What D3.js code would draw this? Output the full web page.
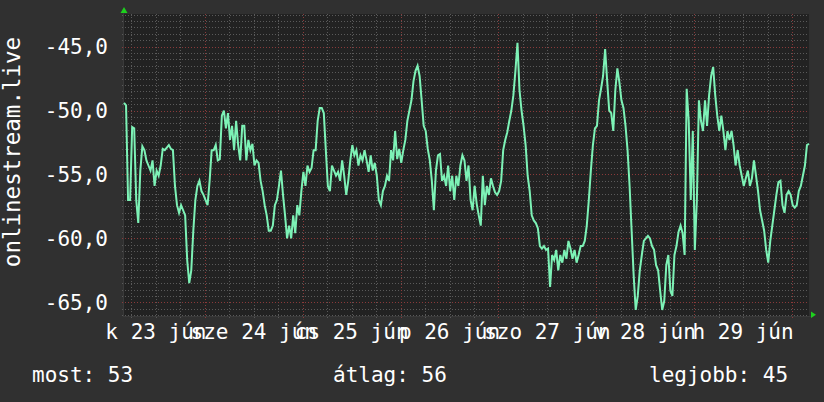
<!DOCTYPE html>
<html><head><meta charset="utf-8">
<script src="https://cdn.jsdelivr.net/npm/d3@7"></script>
<style>html,body{margin:0;padding:0;background:#303030;} svg{display:block}</style>
</head><body><svg id="c" width="824" height="402"></svg>
<script>
// ---- data ----
const seriesName = "onlinestream.live";
const dayLabels = ["k 23 jún", "sze 24 jún", "cs 25 jún", "p 26 jún", "szo 27 jún", "v 28 jún", "h 29 jún"];
const yTicks = [-65, -60, -55, -50, -45];
const legendLabels = ["most: 53", "átlag: 56", "legjobb: 45"];
const startTime = Date.UTC(2020, 5, 23, 4, 10);
const stepMinutes = 30;
const values = [
-49.4,-49.6,-57.0,-57.0,-51.3,-51.4,-57.0,-58.8,-54.7,-52.8,-53.1,-53.9,-54.3,-54.7,-53.9,-55.9,-54.7,-55.1,-54.3,-53.0,
-53.1,-52.9,-52.7,-53.0,-53.1,-55.9,-57.4,-58.0,-57.4,-57.8,-58.2,-61.7,-63.5,-62.5,-59.4,-57.0,-55.9,-55.5,-56.3,-56.6,
-57.0,-57.4,-55.5,-53.1,-53.1,-52.7,-53.9,-53.8,-50.4,-50.0,-51.4,-50.2,-52.3,-51.2,-53.1,-50.8,-52.7,-53.9,-51.2,-51.2,
-53.9,-52.3,-53.1,-52.6,-54.3,-53.9,-54.1,-55.5,-56.3,-57.4,-58.2,-59.4,-59.4,-59.0,-57.4,-57.0,-55.9,-54.7,-56.6,-58.2,
-60.0,-59.0,-60.0,-58.2,-59.6,-57.4,-58.2,-56.3,-54.8,-55.9,-54.3,-54.8,-54.5,-53.1,-53.1,-50.8,-49.8,-49.8,-50.2,-53.1,
-55.9,-56.3,-54.3,-54.7,-55.1,-54.8,-55.5,-53.9,-55.1,-56.6,-55.5,-53.9,-52.7,-53.5,-53.1,-54.3,-53.5,-53.9,-53.1,-53.9,
-54.8,-53.5,-54.7,-54.1,-55.1,-57.0,-57.4,-56.3,-55.9,-55.1,-55.5,-53.1,-53.9,-51.6,-53.8,-53.0,-54.1,-53.1,-52.3,-50.8,
-50.0,-49.2,-47.7,-46.9,-46.5,-47.3,-49.2,-51.2,-51.6,-53.0,-53.9,-55.5,-57.8,-54.7,-53.5,-53.4,-55.5,-55.1,-55.9,-54.3,
-56.3,-55.1,-57.0,-55.1,-55.9,-54.3,-53.5,-53.9,-55.5,-54.3,-57.0,-57.8,-55.9,-57.3,-58.2,-59.0,-55.1,-57.4,-55.9,-56.6,
-55.3,-55.9,-56.4,-56.6,-56.3,-55.5,-53.1,-52.3,-51.7,-50.8,-50.0,-48.8,-46.9,-44.7,-48.4,-50.0,-51.2,-52.7,-55.1,-56.3,
-58.2,-58.6,-58.8,-59.2,-60.6,-60.8,-60.6,-60.9,-60.8,-63.8,-61.3,-61.7,-60.9,-62.5,-61.3,-61.9,-60.9,-61.6,-60.2,-60.8,
-61.6,-60.9,-61.9,-61.3,-60.6,-60.6,-60.2,-59.0,-57.0,-54.7,-52.7,-51.4,-51.2,-49.2,-48.3,-47.3,-45.2,-47.7,-50.0,-50.2,
-51.6,-48.4,-46.7,-47.8,-49.2,-49.8,-51.2,-53.1,-55.9,-59.4,-62.9,-65.6,-64.5,-62.5,-61.3,-60.2,-60.0,-59.8,-60.0,-60.6,
-60.9,-62.1,-62.5,-64.1,-65.6,-64.9,-62.1,-61.3,-64.1,-64.5,-61.3,-60.6,-59.5,-59.0,-59.6,-61.3,-48.3,-50.8,-57.0,-51.6,
-60.9,-57.0,-49.2,-50.8,-51.6,-49.2,-51.2,-48.8,-47.3,-46.6,-48.8,-50.4,-51.6,-50.4,-51.6,-53.1,-51.6,-52.3,-51.6,-52.7,
-54.3,-53.1,-54.3,-55.1,-55.9,-55.3,-54.7,-55.9,-55.3,-53.9,-55.1,-56.3,-57.8,-58.6,-59.4,-60.9,-61.9,-60.2,-59.0,-57.8,
-56.6,-55.6,-55.5,-57.4,-58.0,-56.6,-56.3,-56.6,-57.4,-57.6,-57.4,-56.3,-55.9,-55.1,-54.3,-52.7,-52.6
];

// ---- drawing ----
const W = 824, H = 402;
const plot = {left: 124, right: 809, top: 14, bottom: 317};
const font = "'DejaVu Sans Mono', monospace";
const svg = d3.select("#c");
svg.append("rect").attr("width", W).attr("height", H).attr("fill", "#303030");
svg.append("rect").attr("x", plot.left).attr("y", plot.top)
  .attr("width", plot.right - plot.left).attr("height", plot.bottom - plot.top).attr("fill", "#222222");

const t0 = new Date(startTime), t1 = new Date(startTime + 7 * 864e5);
const x = d3.scaleUtc().domain([t0, t1]).range([plot.left, plot.right]);
const y = d3.scaleLinear().domain([-66.15, -42.45]).range([plot.bottom, plot.top]);
const times = values.map((v, i) => new Date(startTime + i * stepMinutes * 60000));

const loc = d3.formatLocale({decimal: ",", thousands: " ", grouping: [3], currency: ["", ""], minus: "-"});
const fmt = loc.format(".1f");

const grid = svg.append("g").attr("shape-rendering", "crispEdges");
const minorY = d3.range(-66, -42.45, 0.5);
grid.selectAll("line.mh").data(minorY).join("line")
  .attr("x1", plot.left - 2).attr("x2", plot.right)
  .attr("y1", d => Math.round(y(d)) + 0.5).attr("y2", d => Math.round(y(d)) + 0.5)
  .attr("stroke", "#5a5a5a").attr("stroke-dasharray", "1,2");
const minorX = d3.utcHour.every(6).range(t0, t1);
grid.selectAll("line.mv").data(minorX).join("line")
  .attr("y1", plot.top).attr("y2", plot.bottom + 2)
  .attr("x1", d => Math.round(x(d)) + 0.5).attr("x2", d => Math.round(x(d)) + 0.5)
  .attr("stroke", "#5a5a5a").attr("stroke-dasharray", "1,2");
grid.selectAll("line.Mh").data(yTicks).join("line")
  .attr("x1", plot.left - 2).attr("x2", plot.right)
  .attr("y1", d => Math.round(y(d)) + 0.5).attr("y2", d => Math.round(y(d)) + 0.5)
  .attr("stroke", "#8a3a3a").attr("stroke-dasharray", "1,2");
const days = d3.utcDay.range(t0, t1);
grid.selectAll("line.Mv").data(days).join("line")
  .attr("y1", plot.top).attr("y2", plot.bottom + 2)
  .attr("x1", d => Math.round(x(d)) + 0.5).attr("x2", d => Math.round(x(d)) + 0.5)
  .attr("stroke", "#8a3a3a").attr("stroke-dasharray", "1,2");

grid.append("line").attr("x1", plot.left - 0.5).attr("x2", plot.left - 0.5)
  .attr("y1", plot.top - 4).attr("y2", plot.bottom).attr("stroke", "#3a3a3a");
grid.append("line").attr("x1", plot.left).attr("x2", plot.right + 4)
  .attr("y1", plot.bottom - 0.5).attr("y2", plot.bottom - 0.5).attr("stroke", "#3a3a3a");

svg.append("path").attr("d", `M${plot.left - 3.5},${plot.top - 1} L${plot.left + 3.5},${plot.top - 1} L${plot.left},${plot.top - 7} Z`).attr("fill", "#1ed01e");
svg.append("path").attr("d", `M${plot.right + 2},${plot.bottom - 5.5} L${plot.right + 2},${plot.bottom + 1} L${plot.right + 7},${plot.bottom - 2.2} Z`).attr("fill", "#1ed01e");

const line = d3.line().x((d, i) => x(times[i])).y(d => y(d));
svg.append("path").datum(values).attr("d", line)
  .attr("fill", "none").attr("stroke", "#7df2b6").attr("stroke-width", 2).attr("stroke-linejoin", "miter");

svg.selectAll("text.yt").data(yTicks).join("text")
  .attr("x", 108).attr("y", d => y(d) + 7.5)
  .attr("text-anchor", "end").attr("fill", "#ffffff")
  .style("font-family", font).style("font-size", "21px").text(d => fmt(d));

const noons = days.map(d => new Date(+d + 12 * 3600e3));
noons.unshift(new Date(Date.UTC(2020, 5, 23, 12)));
svg.selectAll("text.xt").data(dayLabels).join("text")
  .attr("x", (d, i) => x(noons[i])).attr("y", 338.5)
  .attr("text-anchor", "middle").attr("fill", "#ffffff")
  .style("font-family", font).style("font-size", "21px").text(d => d);

svg.append("text").attr("transform", "translate(20,152) rotate(-90)")
  .attr("text-anchor", "middle").attr("fill", "#ffffff")
  .style("font-family", font).style("font-size", "22.5px").text(seriesName);

const legendX = [32, 333, 649];
svg.selectAll("text.lg").data(legendLabels).join("text")
  .attr("x", (d, i) => legendX[i]).attr("y", 382)
  .attr("fill", "#ffffff").style("font-family", font).style("font-size", "21px").text(d => d);
</script>
</body></html>
